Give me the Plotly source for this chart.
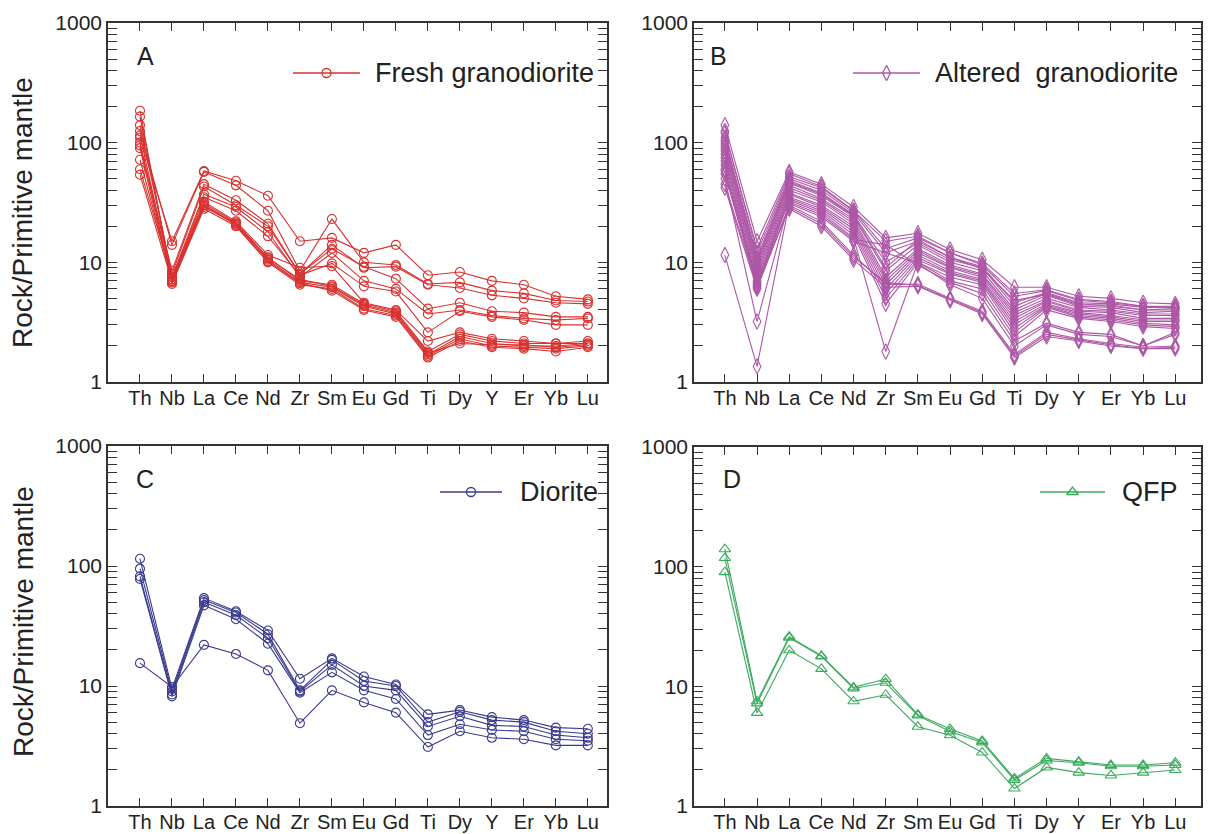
import plotly.graph_objects as go

W, H = 1209, 834

elements = ["Th", "Nb", "La", "Ce", "Nd", "Zr", "Sm", "Eu", "Gd", "Ti", "Dy", "Y", "Er", "Yb", "Lu"]

# Panel A - Fresh granodiorite (rock / primitive mantle)
fresh_granodiorite = [
    [110, 15, 58, 48, 36, 15, 16, 12, 14, 7.8, 8.3, 7.0, 6.5, 5.2, 4.9],
    [125, 14, 57, 44, 27, 8.5, 23, 10, 9.5, 6.6, 6.8, 5.8, 5.5, 4.8, 4.7],
    [95, 8.5, 45, 33, 21, 8, 14, 9, 9.2, 6.5, 6.1, 5.3, 5.0, 4.6, 4.5],
    [140, 8, 43, 30, 20, 8, 13, 9.2, 7.3, 4.1, 4.6, 3.9, 3.8, 3.5, 3.5],
    [165, 7.5, 37, 29, 18, 7.5, 12, 7, 6, 3.7, 4.0, 3.6, 3.4, 3.3, 3.4],
    [72, 7.2, 35, 27, 16.5, 7.8, 9.8, 6.3, 5.7, 2.6, 3.9, 3.5, 3.3, 3.0, 3.0],
    [60, 7.5, 32, 22, 11.5, 9, 9.3, 4.6, 4.0, 2.2, 2.6, 2.3, 2.2, 2.1, 2.2],
    [185, 7, 30, 21, 11, 7, 6.5, 4.5, 3.9, 1.8, 2.5, 2.2, 2.1, 2.1, 2.1],
    [100, 6.8, 29, 21, 10.5, 6.8, 6.2, 4.3, 3.7, 1.7, 2.4, 2.1, 2.0, 2.0, 2.1],
    [90, 6.6, 28, 20, 10, 6.5, 6.0, 4.1, 3.6, 1.65, 2.3, 2.0, 1.95, 1.9, 2.0],
    [54, 6.9, 30, 20.5, 10.2, 6.7, 5.8, 4.0, 3.5, 1.6, 2.2, 1.95, 1.9, 1.8, 1.95],
    [115, 7.2, 31, 21.5, 10.8, 7.2, 6.3, 4.4, 3.8, 1.75, 2.1, 2.05, 2.05, 1.95, 2.05],
]

# Panel B - Altered granodiorite
altered_granodiorite = [
    [140, 15, 57, 45, 29, 16, 17.5, 12.8, 10.5, 6.2, 6.2, 5.2, 5.0, 4.6, 4.5],
    [120, 13, 55, 43, 27, 15, 16.5, 12, 9.8, 5.5, 5.9, 4.9, 4.7, 4.3, 4.2],
    [125, 12, 52, 42, 27, 13, 16, 12, 9.5, 5.2, 5.8, 4.8, 4.6, 4.3, 4.3],
    [110, 11, 50, 40, 26, 12, 15, 11, 9.2, 4.6, 5.6, 4.6, 4.5, 4.2, 4.2],
    [105, 10.5, 47, 37, 24.5, 9, 15.5, 11, 8.8, 4.8, 5.4, 4.4, 4.4, 4.0, 4.1],
    [100, 10, 48, 38, 25, 10, 14.5, 10.5, 9.0, 4.3, 5.5, 4.5, 4.3, 4.0, 4.0],
    [95, 9.5, 46, 36, 24, 8.5, 14, 10, 8.5, 4.0, 5.3, 4.3, 4.2, 3.8, 3.9],
    [90, 9, 44, 34, 23, 7.5, 13, 9.5, 8.0, 3.8, 5.0, 4.2, 4.0, 3.7, 3.7],
    [85, 8.5, 42, 33, 22, 7, 12.5, 9.2, 7.8, 3.6, 4.8, 4.0, 3.9, 3.6, 3.6],
    [80, 8, 40, 32, 21, 6.5, 12, 9, 7.5, 3.4, 4.7, 3.9, 3.8, 3.4, 3.4],
    [75, 7.5, 38, 30, 20, 6, 11.5, 8.5, 7.2, 3.2, 4.5, 3.8, 3.6, 3.3, 3.3],
    [70, 7, 37, 29, 19, 5.5, 11, 8.2, 7.0, 3.0, 4.4, 3.7, 3.5, 3.2, 3.2],
    [65, 6.8, 35, 28, 18, 5, 10.5, 8.0, 6.8, 2.8, 4.3, 3.6, 3.4, 3.1, 3.0],
    [60, 6.5, 34, 27, 17, 4.5, 10, 7.5, 6.5, 2.6, 4.2, 3.5, 3.3, 3.0, 2.9],
    [55, 6.2, 33, 26, 16, 1.8, 10, 7.0, 6.0, 2.4, 4.0, 3.4, 3.2, 2.9, 2.8],
    [50, 3.2, 32, 25, 15.5, 14, 9.5, 6.8, 5.5, 2.2, 3.1, 2.6, 2.5, 2.0, 2.5],
    [11.5, 1.35, 31, 24, 15, 12, 9.8, 6.5, 5.0, 2.0, 3.0, 2.5, 2.4, 2.0, 2.6],
    [42, 6, 30, 22, 11.5, 6.5, 6.6, 5.0, 3.9, 1.7, 2.6, 2.3, 2.1, 1.95, 2.0],
    [45, 6.3, 29, 21, 11, 6.8, 6.4, 4.9, 3.8, 1.65, 2.5, 2.25, 2.05, 1.9, 1.95],
    [58, 6.6, 28, 20, 10.5, 6.2, 6.3, 4.8, 3.7, 1.6, 2.4, 2.2, 2.0, 1.9, 1.9],
]

# Panel C - Diorite
diorite = [
    [115, 9.5, 54, 42, 29, 11.5, 17, 12, 10.3, 5.8, 6.3, 5.5, 5.2, 4.5, 4.4],
    [95, 9, 52, 41, 27, 9.2, 16.5, 11, 10, 5.0, 6.1, 5.2, 5.0, 4.2, 4.0],
    [82, 8.5, 50, 39, 25, 9, 15, 10, 9.2, 4.6, 5.6, 4.7, 4.6, 3.9, 3.7],
    [78, 8.2, 47, 36, 22.5, 8.8, 13, 9.2, 7.8, 3.9, 4.8, 4.3, 4.2, 3.6, 3.5],
    [15.5, 9.8, 22, 18.5, 13.5, 4.9, 9.2, 7.3, 6.0, 3.1, 4.2, 3.7, 3.6, 3.2, 3.2],
]

# Panel D - QFP
qfp = [
    [140, 7.5, 26, 18, 9.8, 11.5, 5.8, 4.4, 3.5, 1.7, 2.5, 2.35, 2.2, 2.2, 2.3],
    [118, 7.2, 25.5, 17.8, 9.6, 10.7, 5.7, 4.2, 3.4, 1.65, 2.4, 2.3, 2.15, 2.15, 2.2],
    [90, 6, 20, 14, 7.5, 8.5, 4.6, 3.9, 2.8, 1.4, 2.1, 1.9, 1.8, 1.9, 2.0],
]

y_tickvals = [m * 10 ** e for e in range(0, 3) for m in range(1, 10)] + [1000]
y_ticktext = [str(v) if v in (1, 10, 100, 1000) else "" for v in y_tickvals]

panels = [
    dict(name="Fresh granodiorite", letter="A", data=fresh_granodiorite, color="#d8312f",
         symbol="circle-open", size=9, xa="x", ya="y",
         dom=(108, 607, 23, 382), xr=(-1.0, 14.6)),
    dict(name="Altered  granodiorite", letter="B", data=altered_granodiorite, color="#ad57a6",
         symbol="diamond-tall-open", size=11, xa="x2", ya="y2",
         dom=(694, 1201, 23, 382), xr=(-0.96, 14.8)),
    dict(name="Diorite", letter="C", data=diorite, color="#393a8e",
         symbol="circle-open", size=9, xa="x3", ya="y3",
         dom=(108, 607, 446, 806), xr=(-1.0, 14.6)),
    dict(name="QFP", letter="D", data=qfp, color="#3aaa5e",
         symbol="triangle-up-open", size=10, xa="x4", ya="y4",
         dom=(694, 1201, 447, 806), xr=(-0.96, 14.8)),
]

# legend sample positions (window pixels): line x0, x1, y, text x
legend_pos = {
    "A": (293, 360, 73, 373),
    "B": (853, 920, 73, 933),
    "C": (440, 502, 492, 518),
    "D": (1040, 1105, 492, 1120),
}
letter_pos = {"A": (145, 56), "B": (718, 56), "C": (145, 479), "D": (732, 479)}

FONT = "Arial, Liberation Sans, sans-serif"
fig = go.Figure()

def px(x):
    return x / W

def py(y):
    return 1 - y / H

layout_axes = {}
annotations = []
for i, p in enumerate(panels):
    for row in p["data"]:
        fig.add_trace(go.Scatter(
            x=list(range(len(elements))), y=row, mode="lines+markers",
            xaxis=p["xa"], yaxis=p["ya"], showlegend=False,
            line=dict(color=p["color"], width=1.1),
            marker=dict(symbol=p["symbol"], size=p["size"], color=p["color"],
                        line=dict(width=1.1, color=p["color"])),
            hoverinfo="skip"))
    x0, x1, y0, y1 = p["dom"]
    n = "" if i == 0 else str(i + 1)
    layout_axes["xaxis" + n] = dict(
        domain=[px(x0), px(x1)], range=list(p["xr"]), anchor="y" + n, automargin=False,
        tickmode="array", tickvals=list(range(len(elements))), ticktext=elements,
        ticks="inside", ticklen=8, tickwidth=1.3, tickcolor="#333",
        showline=True, linecolor="#333", linewidth=1.6, mirror="allticks",
        showgrid=False, zeroline=False, ticklabelstandoff=-3,
        tickfont=dict(family=FONT, size=20, color="#222"))
    layout_axes["yaxis" + n] = dict(
        domain=[py(y1), py(y0)], type="log", range=[0, 3], anchor="x" + n, automargin=False,
        tickmode="array", tickvals=y_tickvals, ticktext=y_ticktext,
        ticks="inside", ticklen=9, tickwidth=1.3, tickcolor="#333",
        showline=True, linecolor="#333", linewidth=1.6, mirror="allticks",
        showgrid=False, zeroline=False,
        tickfont=dict(family=FONT, size=21, color="#222"))

    # panel letter
    lx, ly = letter_pos[p["letter"]]
    annotations.append(dict(x=px(lx), y=py(ly), xref="paper", yref="paper",
                            text=p["letter"], showarrow=False, xanchor="center", yanchor="middle",
                            font=dict(family=FONT, size=25, color="#222")))
    # legend sample
    lx0, lx1, lyy, ltx = legend_pos[p["letter"]]
    fig.add_trace(go.Scatter(x=[lx0, lx1], y=[lyy, lyy], mode="lines", xaxis="x5", yaxis="y5",
                             showlegend=False, line=dict(color=p["color"], width=1.3),
                             hoverinfo="skip"))
    fig.add_trace(go.Scatter(x=[(lx0 + lx1) / 2], y=[lyy], mode="markers", xaxis="x5", yaxis="y5",
                             showlegend=False,
                             marker=dict(symbol=p["symbol"], size=p["size"], color=p["color"],
                                         line=dict(width=1.3, color=p["color"])),
                             hoverinfo="skip"))
    annotations.append(dict(x=px(ltx), y=py(lyy), xref="paper", yref="paper",
                            text=p["name"].replace("  ", "&nbsp; "), showarrow=False,
                            xanchor="left", yanchor="middle",
                            font=dict(family=FONT, size=27, color="#222")))

# y-axis titles
for cy in (213, 622):
    annotations.append(dict(x=px(23), y=py(cy), xref="paper", yref="paper",
                            text="Rock/Primitive mantle", showarrow=False, textangle=-90,
                            xanchor="center", yanchor="middle",
                            font=dict(family=FONT, size=28, color="#222")))

layout_axes["xaxis5"] = dict(domain=[0, 1], range=[0, W], visible=False, anchor="y5",
                             fixedrange=True, automargin=False)
layout_axes["yaxis5"] = dict(domain=[0, 1], range=[H, 0], visible=False, anchor="x5",
                             fixedrange=True, automargin=False)

fig.update_layout(
    width=W, height=H, autosize=False,
    margin=dict(l=0, r=0, t=0, b=0, autoexpand=False),
    paper_bgcolor="white", plot_bgcolor="rgba(0,0,0,0)",
    showlegend=False, annotations=annotations,
    **layout_axes)

# remove the default 8 px page margin so the figure fills the window exactly
fig.write_html("out.html", config={"displayModeBar": False},
               post_script="document.body.style.margin='0px';")
